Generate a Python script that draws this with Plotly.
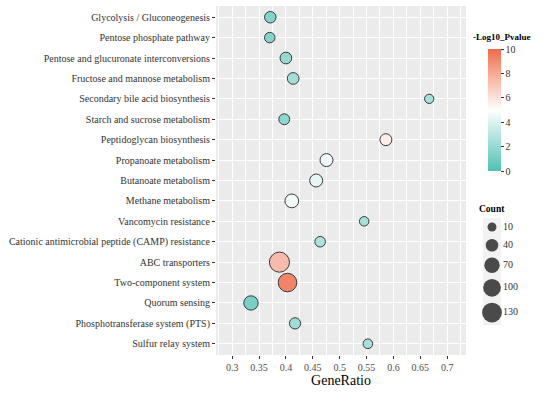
import numpy as np
import plotly.graph_objects as go

pathways = [
    "Glycolysis / Gluconeogenesis",
    "Pentose phosphate pathway",
    "Pentose and glucuronate interconversions",
    "Fructose and mannose metabolism",
    "Secondary bile acid biosynthesis",
    "Starch and sucrose metabolism",
    "Peptidoglycan biosynthesis",
    "Propanoate metabolism",
    "Butanoate metabolism",
    "Methane metabolism",
    "Vancomycin resistance",
    "Cationic antimicrobial peptide (CAMP) resistance",
    "ABC transporters",
    "Two-component system",
    "Quorum sensing",
    "Phosphotransferase system (PTS)",
    "Sulfur relay system",
]
gene_ratio = [0.371, 0.370, 0.400, 0.4135, 0.6665, 0.397, 0.586, 0.4755, 0.4563,
              0.411, 0.5456, 0.4637, 0.388, 0.403, 0.335, 0.417, 0.5525]
neg_log10_p = [1.5, 1.5, 2.0, 2.4, 2.5, 1.8, 5.6, 4.5, 4.3, 4.6, 2.5, 2.7, 7.4, 9.2, 1.2, 2.3, 2.5]
counts = [30, 22, 32, 32, 12, 25, 34, 44, 44, 52, 14, 22, 135, 112, 58, 28, 15]

x_ticks = [0.3, 0.35, 0.4, 0.45, 0.5, 0.55, 0.6, 0.65, 0.7]
x_tick_labels = ["0.3", "0.35", "0.4", "0.45", "0.5", "0.55", "0.6", "0.65", "0.7"]
cb_ticks = [0, 2, 4, 6, 8, 10]
size_breaks = [10, 40, 70, 100, 130]
size_labels = ["10", "40", "70", "100", "130"]


def diameter(c):
    c = np.asarray(c, dtype=float)
    return np.sqrt(80 + 2.6 * (c - 10))


FONT = "Liberation Serif, Times New Roman, serif"
colorscale = [
    [0.0, "#4EC2B5"],
    [0.25, "#A6E0DA"],
    [0.5, "#FFFFFF"],
    [0.75, "#F9B8A5"],
    [1.0, "#F26B4B"],
]

W, H = 550, 399
L, R, T, B = 216, 10, 6, 44
PW, PH = W - L - R, H - T - B


def px_x(px):
    return (px - L) / PW


def px_y(py):
    return (H - B - py) / PH


fig = go.Figure()
fig.add_trace(go.Scatter(
    x=gene_ratio, y=pathways, mode="markers",
    marker=dict(
        size=diameter(counts), sizemode="diameter",
        color=neg_log10_p, colorscale=colorscale, cmin=0, cmax=10,
        line=dict(color="#3a3a3a", width=1),
        opacity=1,
        colorbar=dict(
            x=px_x(488), xanchor="left", y=px_y(110), yanchor="middle",
            len=122 / PH, lenmode="fraction", thickness=13,
            outlinewidth=0, tickvals=cb_ticks, ticks="outside", ticklen=3,
            tickcolor="#333333",
            tickfont=dict(family=FONT, size=10, color="#333333"),
            xpad=0, ypad=0,
        ),
    ),
    showlegend=False, hoverinfo="x+y",
    xaxis="x", yaxis="y",
))

# size legend drawn in its own small axes (axis units = pixels)
d_leg = diameter(size_breaks)
heights = np.maximum(18, d_leg + 6)
centers = np.cumsum(heights) - heights / 2
fig.add_trace(go.Scatter(
    x=[0] * len(size_breaks), y=centers, mode="markers",
    marker=dict(size=d_leg, color="#4a4a4a", opacity=1, line=dict(width=0)),
    showlegend=False, hoverinfo="skip", xaxis="x2", yaxis="y2",
))
fig.add_trace(go.Scatter(
    x=[11] * len(size_breaks), y=centers, mode="text", text=size_labels,
    textposition="middle right",
    textfont=dict(family=FONT, size=10, color="#333333"),
    showlegend=False, hoverinfo="skip", xaxis="x2", yaxis="y2",
))

leg_top = 218
leg_h = float(heights.sum())
leg_bot = leg_top + leg_h

fig.update_layout(
    width=W, height=H,
    margin=dict(l=L, r=R, t=T, b=B, autoexpand=False),
    paper_bgcolor="white", plot_bgcolor="white",
    font=dict(family=FONT, size=10, color="#333333"),
    xaxis=dict(
        domain=[0, px_x(466)], range=[0.270, 0.735],
        tickvals=x_ticks, ticktext=x_tick_labels,
        showgrid=True, gridcolor="white", gridwidth=1,
        minor=dict(dtick=0.025, tick0=0.275, showgrid=True, gridcolor="white", gridwidth=0.5),
        ticks="outside", ticklen=3, tickcolor="#333333",
        tickfont=dict(family=FONT, size=10, color="#4d4d4d"),
        zeroline=False, showline=False, automargin=False,
        title=dict(text="GeneRatio", font=dict(family=FONT, size=14, color="black"), standoff=3),
    ),
    yaxis=dict(
        categoryorder="array", categoryarray=pathways,
        range=[len(pathways) - 0.45, -0.55],
        showgrid=True, gridcolor="white", gridwidth=1,
        ticks="outside", ticklen=3, tickcolor="#333333",
        tickfont=dict(family=FONT, size=10, color="#333333"),
        zeroline=False, showline=False, automargin=False,
    ),
    xaxis2=dict(domain=[px_x(472), 1.0], range=[-20, W - R - 492], visible=False,
                fixedrange=True, anchor="y2"),
    yaxis2=dict(domain=[px_y(leg_bot), px_y(leg_top)], range=[leg_h, 0],
                visible=False, fixedrange=True, anchor="x2"),
    shapes=[
        dict(type="rect", xref="x domain", yref="y domain", x0=0, x1=1, y0=0, y1=1,
             fillcolor="#EBEBEB", line=dict(width=0), layer="below"),
        dict(type="rect", xref="x2", yref="y2", x0=-9, x1=9,
             y0=0, y1=leg_h, fillcolor="#F2F2F2", line=dict(width=0), layer="below"),
    ],
    annotations=[
        dict(text="<b>-Log10_Pvalue</b>", xref="paper", yref="paper",
             x=px_x(471), y=px_y(37), xanchor="left", yanchor="middle",
             showarrow=False, font=dict(family=FONT, size=9, color="black")),
        dict(text="<b>Count</b>", xref="paper", yref="paper",
             x=px_x(477), y=px_y(209), xanchor="left", yanchor="middle",
             showarrow=False, font=dict(family=FONT, size=9.5, color="black")),
    ],
)

fig.write_html(
    "out.html",
    config={"displayModeBar": False},
    post_script="document.body.style.margin='0px';document.body.style.overflow='hidden';",
)
